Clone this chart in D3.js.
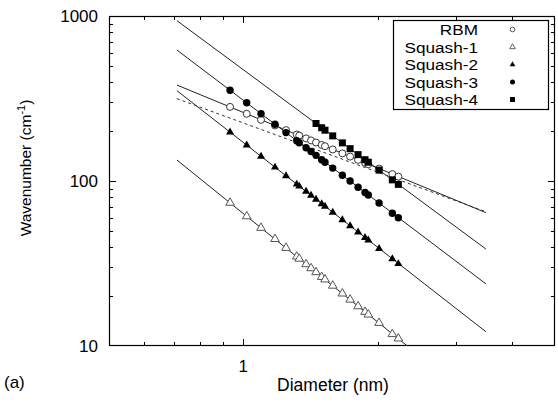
<!DOCTYPE html>
<html><head><meta charset="utf-8">
<script src="https://cdn.jsdelivr.net/npm/d3@7"></script>
<style>
html,body{margin:0;padding:0;background:#fff;}
text{font-family:"Liberation Sans",Arial,Helvetica,sans-serif;}
</style></head>
<body><svg id="c" width="558" height="405"></svg>
<script>
// Diameters (nm)
const diam = [0.934,1.018,1.096,1.178,1.247,1.318,1.335,1.383,1.419,1.456,1.499,1.525,1.587,1.668,1.736,1.809,1.875,1.907,2.016,2.159,2.227];
const diamSq4 = [1.456,1.499,1.525,1.587,1.668,1.736,1.809,1.875,1.907,2.016,2.159,2.227];
// Wavenumbers (cm^-1)
const rbm   = [281.3,255.5,234.9,217.0,203.4,191.3,188.4,181.2,176.2,171.1,165.5,162.5,155.4,147.0,140.6,134.3,128.9,126.4,118.9,110.1,106.3];
const sq1   = [73.8,61.1,52.0,44.5,39.3,34.8,33.8,31.3,29.6,28.0,26.2,25.3,23.2,20.8,19.1,17.4,16.1,15.5,13.8,11.8,11.1];
const sq2   = [197.9,164.8,141.0,121.1,107.4,95.5,92.9,86.4,81.8,77.4,72.7,70.2,64.5,58.1,53.5,48.9,45.3,43.8,38.9,33.7,31.5];
const sq3   = [355.1,297.8,255.8,220.6,196.5,175.5,170.7,158.9,150.8,143.0,134.6,130.0,119.7,108.3,99.9,91.7,85.2,82.3,73.5,63.8,59.9];
const sq4   = [223.1,210.4,203.2,187.7,170.2,157.0,144.5,134.6,130.0,116.4,101.6,95.4];
// Fit lines: values at the two end diameters
const fitD = [0.71, 3.5];
const fitRBM = [381.6, 64.3];
const fitRBMdash = [315.5, 65.1];
const fitSq1 = [134, 4.13];
const fitSq2 = [352.6, 12.2];
const fitSq3 = [622, 23.8];
const fitSq4 = [937, 38.7];
const legendNames = ["RBM","Squash-1","Squash-2","Squash-3","Squash-4"];
const yTickLabels = [10,100,1000];
const xTickLabels = [1];

const svg = d3.select("#c");
const L=109, R=555, T=16, B=346;
const x = d3.scaleLog().domain([0.5,5]).range([L,R]);
const y = d3.scaleLog().domain([10,1000]).range([B,T]);

svg.append("defs").append("clipPath").attr("id","clip")
  .append("rect").attr("x",L).attr("y",T).attr("width",R-L).attr("height",B-T);

// ticks
const xMinor=[0.6,0.7,0.8,0.9,2,3,4], xMajor=[1];
const yMinor=[], yMajor=[100];
[10,100].forEach(b=>{for(let k=2;k<=9;k++) yMinor.push(b*k);});
const tk = svg.append("g").attr("stroke","#000").attr("stroke-width",1);
xMinor.forEach(v=>{const px=Math.round(x(v))+0.5;
  tk.append("line").attr("x1",px).attr("x2",px).attr("y1",B).attr("y2",B-4);
  tk.append("line").attr("x1",px).attr("x2",px).attr("y1",T).attr("y2",T+4);});
xMajor.forEach(v=>{const px=Math.round(x(v))+0.5;
  tk.append("line").attr("x1",px).attr("x2",px).attr("y1",B).attr("y2",B-7);
  tk.append("line").attr("x1",px).attr("x2",px).attr("y1",T).attr("y2",T+7);});
yMinor.forEach(v=>{const py=Math.round(y(v))+0.5;
  tk.append("line").attr("x1",L).attr("x2",L+4).attr("y1",py).attr("y2",py);
  tk.append("line").attr("x1",R).attr("x2",R-4).attr("y1",py).attr("y2",py);});
yMajor.forEach(v=>{const py=Math.round(y(v))+0.5;
  tk.append("line").attr("x1",L).attr("x2",L+7).attr("y1",py).attr("y2",py);
  tk.append("line").attr("x1",R).attr("x2",R-7).attr("y1",py).attr("y2",py);});
svg.append("rect").attr("x",L+0.5).attr("y",T+0.5).attr("width",R-L-1).attr("height",B-T-1)
  .attr("fill","none").attr("stroke","#000").attr("stroke-width",1.2);

// tick labels
yTickLabels.forEach(v=>svg.append("text").attr("x",98).attr("y",y(v)+6).attr("text-anchor","end")
  .attr("font-size",17).text(v));
xTickLabels.forEach(v=>svg.append("text").attr("x",x(v)).attr("y",372).attr("text-anchor","middle")
  .attr("font-size",17).text(v));

// axis titles
svg.append("text").attr("x",333).attr("y",391).attr("text-anchor","middle").attr("font-size",17.5).text("Diameter (nm)");
const yl = svg.append("text").attr("transform","translate(31,168) rotate(-90)").attr("text-anchor","middle").attr("font-size",15.5);
yl.append("tspan").text("Wavenumber (cm");
yl.append("tspan").attr("dy",-6).attr("font-size",11).text("-1");
yl.append("tspan").attr("dy",6).text(")");
svg.append("text").attr("x",4).attr("y",388).attr("font-size",17).text("(a)");

// fit lines
const line = d3.line().x(d=>x(d[0])).y(d=>y(d[1]));
const gl = svg.append("g").attr("clip-path","url(#clip)").attr("fill","none");
[fitSq4,fitSq3,fitRBM,fitSq2,fitSq1].forEach(f=>{
  gl.append("path").attr("d",line(fitD.map((d,i)=>[d,f[i]]))).attr("stroke","#222").attr("stroke-width",1);
});
gl.append("path").attr("d",line(fitD.map((d,i)=>[d,fitRBMdash[i]]))).attr("stroke","#333")
  .attr("stroke-width",1).attr("stroke-dasharray","3,3");

// markers
const gm = svg.append("g").attr("clip-path","url(#clip)");
const triUp = d3.symbol().type(d3.symbolTriangle);
function drawSeries(xs, ys, kind){
  xs.forEach((d,i)=>{
    const px=x(d), py=y(ys[i]);
    if(kind==="ocirc") gm.append("circle").attr("cx",px).attr("cy",py).attr("r",3.5).attr("fill","#fff").attr("stroke","#222").attr("stroke-width",0.9);
    else if(kind==="fcirc") gm.append("circle").attr("cx",px).attr("cy",py).attr("r",3.7).attr("fill","#000");
    else if(kind==="otri") gm.append("path").attr("d",triUp.size(32)()).attr("transform",`translate(${px},${py})`).attr("fill","#fff").attr("stroke","#555").attr("stroke-width",1);
    else if(kind==="ftri") gm.append("path").attr("d",triUp.size(28)()).attr("transform",`translate(${px},${py})`).attr("fill","#000");
    else if(kind==="fsq") gm.append("rect").attr("x",px-3.5).attr("y",py-3.5).attr("width",7).attr("height",7).attr("fill","#000");
  });
}
drawSeries(diam, sq1, "otri");
drawSeries(diam, sq2, "ftri");
drawSeries(diam, rbm, "ocirc");
drawSeries(diam, sq3, "fcirc");
drawSeries(diamSq4, sq4, "fsq");

// legend
const lg = svg.append("g");
lg.append("rect").attr("x",393.5).attr("y",20.5).attr("width",155).attr("height",89).attr("fill","#fff").attr("stroke","#000").attr("stroke-width",1.2);
const kinds=["ocirc","otri","ftri","fcirc","fsq"];
legendNames.forEach((n,i)=>{
  const cy = 29.5 + i*17.5;
  lg.append("text").attr("transform",`translate(478,${cy+5.6}) scale(1.13,1)`).attr("text-anchor","end").attr("font-size",15.2).text(n);
  const sx=512.5;
  const k=kinds[i];
  if(k==="ocirc") lg.append("circle").attr("cx",sx).attr("cy",cy).attr("r",2.3).attr("fill","#fff").attr("stroke","#444").attr("stroke-width",0.9);
  else if(k==="fcirc") lg.append("circle").attr("cx",sx).attr("cy",cy).attr("r",2.5).attr("fill","#000");
  else if(k==="otri") lg.append("path").attr("d",triUp.size(14)()).attr("transform",`translate(${sx},${cy})`).attr("fill","#fff").attr("stroke","#555").attr("stroke-width",0.9);
  else if(k==="ftri") lg.append("path").attr("d",triUp.size(14)()).attr("transform",`translate(${sx},${cy})`).attr("fill","#000");
  else if(k==="fsq") lg.append("rect").attr("x",sx-2.5).attr("y",cy-2.5).attr("width",5).attr("height",5).attr("fill","#000");
});
</script></body></html>
